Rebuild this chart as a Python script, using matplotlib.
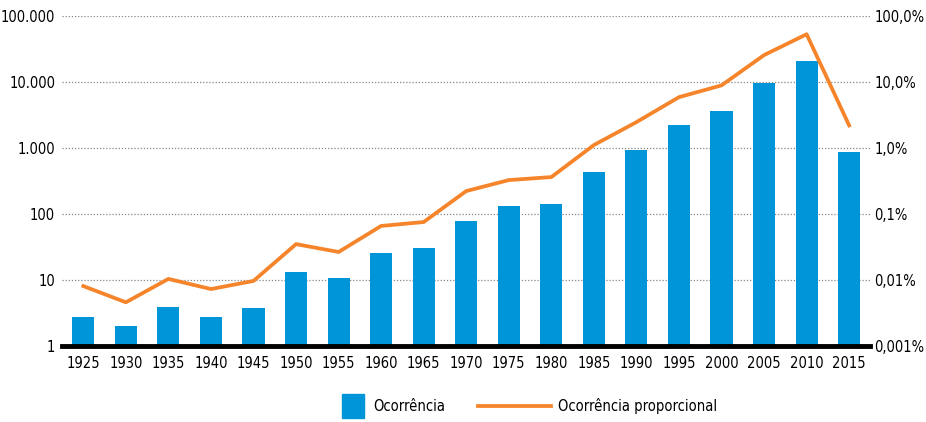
import numpy as np
import matplotlib
matplotlib.use('Agg')
import matplotlib.pyplot as plt
from matplotlib.ticker import FixedLocator, FixedFormatter, NullLocator
from matplotlib.patches import Patch
from matplotlib.lines import Line2D

plt.rcParams['font.family'] = ['DejaVu Sans']
plt.rcParams['font.stretch'] = 'condensed'

# Dados
anos = ['1925', '1930', '1935', '1940', '1945', '1950', '1955', '1960', '1965', '1970',
        '1975', '1980', '1985', '1990', '1995', '2000', '2005', '2010', '2015']
ocorrencia = [2.8, 2, 3.9, 2.8, 3.8, 13.2, 10.7, 25.7, 30.5, 78,
              132, 142, 433, 933, 2230, 3640, 9660, 20800, 870]
# em porcentagem
proporcional = [0.0081, 0.0046, 0.0104, 0.0073, 0.0097, 0.035, 0.0266, 0.066, 0.0757, 0.223,
                0.327, 0.363, 1.11, 2.47, 5.9, 8.9, 25.6, 53, 2.2]

esq_ticks = [1, 10, 100, 1000, 10000, 100000]
esq_labels = ['1', '10', '100', '1.000', '10.000', '100.000']
dir_ticks = [0.001, 0.01, 0.1, 1, 10, 100]
dir_labels = ['0,001%', '0,01%', '0,1%', '1,0%', '10,0%', '100,0%']

azul = '#0094d9'
laranja = '#f5842a'
fs = 10.5

fig = plt.figure(figsize=(9.26, 4.22), dpi=100)
ax = fig.add_axes([0.067, 0.18, 0.873, 0.782])
x = np.arange(len(anos))

ax.bar(x, ocorrencia, width=0.52, color=azul, zorder=2)
ax.set_yscale('log')
ax.set_ylim(1, 100000)
ax.set_xlim(-0.5, len(anos) - 0.5)
ax.yaxis.set_major_locator(FixedLocator(esq_ticks))
ax.yaxis.set_major_formatter(FixedFormatter(esq_labels))
ax.yaxis.set_minor_locator(NullLocator())
ax.set_xticks(x)
ax.set_xticklabels(anos)
ax.tick_params(axis='both', length=0, labelsize=fs)
ax.tick_params(axis='x', pad=7)
ax.tick_params(axis='y', pad=5)
for s in ['top', 'left', 'right']:
    ax.spines[s].set_visible(False)
ax.spines['bottom'].set_linewidth(3.5)
ax.spines['bottom'].set_zorder(5)
for t in esq_ticks[1:]:
    ax.axhline(t, color='#888888', linestyle=(0, (1, 1.5)), linewidth=0.9, zorder=1)

ax2 = ax.twinx()
ax2.plot(x, proporcional, color=laranja, linewidth=2.7, zorder=3)
ax2.set_yscale('log')
ax2.set_ylim(0.001, 100)
ax2.yaxis.set_major_locator(FixedLocator(dir_ticks))
ax2.yaxis.set_major_formatter(FixedFormatter(dir_labels))
ax2.yaxis.set_minor_locator(NullLocator())
ax2.tick_params(axis='y', length=0, labelsize=fs, pad=3)
for s in ['top', 'left', 'right', 'bottom']:
    ax2.spines[s].set_visible(False)

# legendas separadas para ter tamanhos de marcador diferentes
fig.legend([Patch(color=azul)], ['Ocorrência'], loc='center',
           bbox_to_anchor=(0.425, 0.038), frameon=False, fontsize=fs,
           handlelength=1.5, handleheight=2.2, handletextpad=0.6)
fig.legend([Line2D([0], [0], color=laranja, linewidth=2.7)], ['Ocorrência proporcional'],
           loc='center', bbox_to_anchor=(0.645, 0.038), frameon=False, fontsize=fs,
           handlelength=5, handletextpad=0.5)

fig.savefig('out.png', dpi=100)
